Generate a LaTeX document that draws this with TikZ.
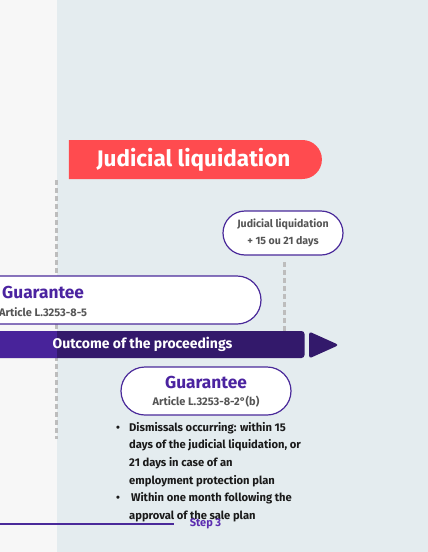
\documentclass[tikz,border=0pt]{standalone}
\usepackage{fontspec}
\setmainfont{Fira Sans}
\usetikzlibrary{shapes.misc}
\definecolor{bgleft}{HTML}{F7F7F7}
\definecolor{bgright}{HTML}{E4ECEF}
\definecolor{redban}{HTML}{FF4B4F}
\definecolor{purpborder}{HTML}{4A2A9A}
\definecolor{purptext}{HTML}{4B23A0}
\definecolor{bardark}{HTML}{33196B}
\definecolor{barlight}{HTML}{48239A}
\definecolor{graytext}{HTML}{555555}
\definecolor{darktext}{HTML}{1A1A1A}
\definecolor{dashgray}{HTML}{BDBDBD}
\definecolor{steppurple}{HTML}{5B2DB0}
\tikzset{
  pill/.style={rounded rectangle, draw=purpborder, line width=1.2pt, fill=white, inner sep=0pt},
  dashline/.style={draw=dashgray, line width=3pt, dash pattern=on 5pt off 3pt},
  gtitle/.style={text=purptext, font=\bfseries\fontsize{17.3}{19}\selectfont, inner sep=0pt},
  gart/.style={text=graytext, font=\bfseries\fontsize{11}{13}\selectfont, inner sep=0pt},
}
\begin{document}
\begin{tikzpicture}[x=1pt,y=-1pt]
\clip (0,0) rectangle (428,552);
\fill[bgleft] (0,0) rectangle (57,552);
\fill[bgright] (57,0) rectangle (428,552);
% dashed lines
\coordinate (d1a) at (56,180);
\coordinate (d1b) at (56,439);
\coordinate (d2a) at (284,262);
\coordinate (d2b) at (284,331);
\draw[dashline] (d1a) -- (d1b);
\draw[dashline] (d2a) -- (d2b);
% red banner
\node[rounded rectangle, rounded rectangle left arc=none, fill=redban, minimum width=253pt, minimum height=39pt, inner sep=0pt,
  text=white, font=\bfseries\fontsize{22.5}{26}\selectfont] (ban) at (193.5,159.5) {Judicial liquidation};
% bubble
\node[pill, minimum width=120pt, minimum height=44pt, align=center, text=graytext,
  font=\bfseries\fontsize{10.6}{17}\selectfont] (bub) at (283,233) {Judicial liquidation\\+ 15 ou 21 days};
% left guarantee
\node[pill, rounded rectangle left arc=none, minimum width=321pt, minimum height=48pt] (g1) at (100.5,300) {};
\node[gtitle, anchor=west] (g1t) at (2,293) {Guarantee};
\node[gart, anchor=west] (g1a) at (-1,312) {Article L.3253-8-5};
% outcome bar
\node[fill=bardark, rounded corners=3pt, minimum width=313pt, minimum height=27pt, inner sep=0pt] (bar) at (148,344.5) {};
\fill[barlight] (0,331) rectangle (57,358);
\node[text=white, font=\bfseries\fontsize{14}{16}\selectfont, inner sep=0pt] (bart) at (142.5,344.5) {Outcome of the proceedings};
\fill[bardark, rounded corners=3pt] (309,331.5) -- (339,345) -- (309,358.5) -- cycle;
% second guarantee
\node[pill, minimum width=170pt, minimum height=48pt] (g2) at (206,391) {};
\node[gtitle] (g2t) at (206,383) {Guarantee};
\node[gart] (g2a) at (206,402) {Article L.3253-8-2°(b)};
% bullets
\node[anchor=north west, inner sep=0pt, align=left, text=darktext,
  font=\bfseries\fontsize{11.2}{17.6}\selectfont] (list) at (116,422)
  {\makebox[13pt][l]{•}Dismissals occurring: within 15\\
   \hspace*{13pt}days of the judicial liquidation, or\\
   \hspace*{13pt}21 days in case of an\\
   \hspace*{13pt}employment protection plan\\
   \makebox[13pt][l]{•}\,Within one month following the\\
   \hspace*{13pt}approval of the sale plan};
% bottom line
\coordinate (ls) at (0,524);
\node[text=steppurple, font=\bfseries\fontsize{11}{13}\selectfont, inner sep=0pt] (step) at (205.5,524) {Step 3};
\draw[purpborder, line width=1.5pt] (ls) -- (174,524);
\end{tikzpicture}
\end{document}
